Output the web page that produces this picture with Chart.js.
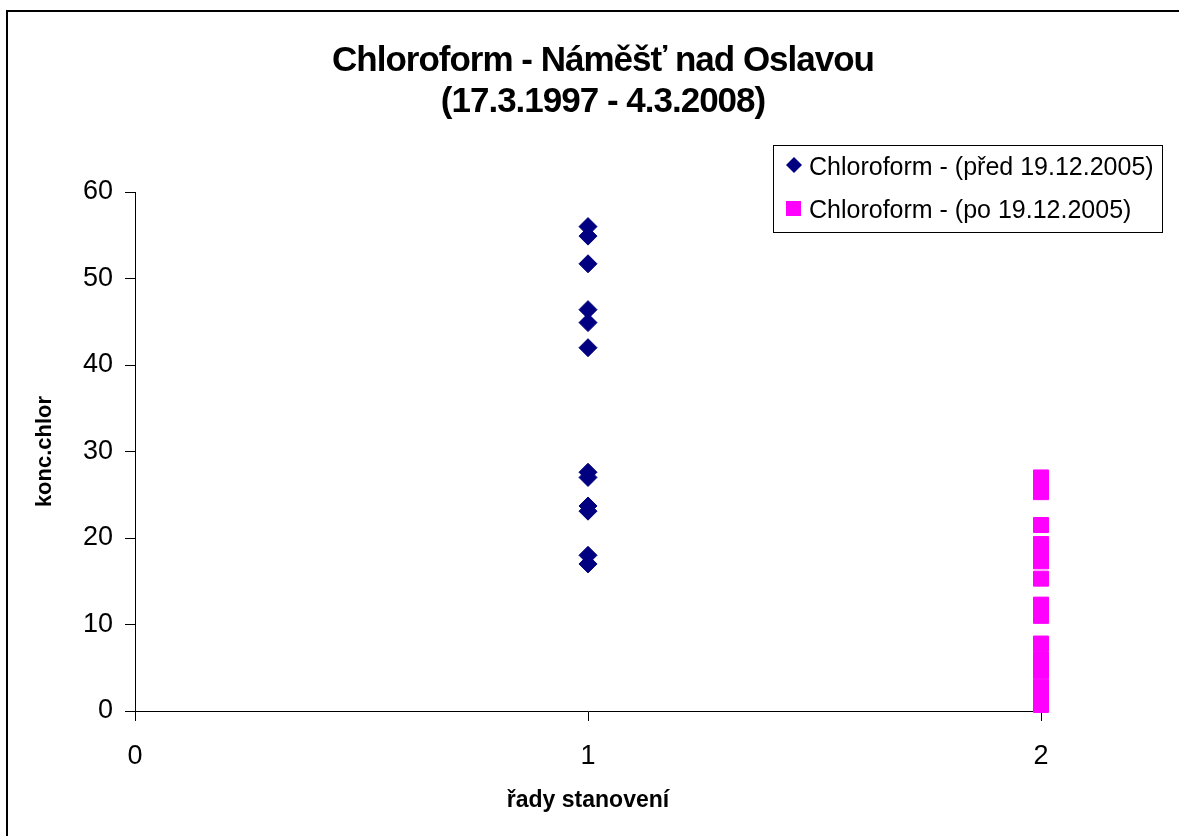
<!DOCTYPE html>
<html>
<head>
<meta charset="utf-8">
<script src="https://cdn.jsdelivr.net/npm/chart.js@4.4.1/dist/chart.umd.min.js"></script>
<style>
  html, body { margin: 0; background: #fff; }
  #chart { display: block; }
</style>
</head>
<body>
<canvas id="chart" width="1179" height="836"></canvas>
<script>
// chloroform concentration, series 1 = before 19.12.2005, series 2 = after
const titleLines = ["Chloroform - Náměšť nad Oslavou", "(17.3.1997 - 4.3.2008)"];
const seriesLabels = ["Chloroform - (před 19.12.2005)", "Chloroform - (po 19.12.2005)"];
const seriesX = [1, 2];
const beforeValues = [56.0, 54.9, 51.7, 46.4, 44.9, 42.0, 27.6, 27.0, 23.7, 23.1, 18.0, 17.0];
const afterValues = [27.0, 25.3, 21.5, 19.3, 18.0, 17.3, 15.3, 12.3, 11.0, 7.8, 6.0, 4.6, 2.8, 1.5, 0.7];
const xTicks = [0, 1, 2];
const yTicks = [0, 10, 20, 30, 40, 50, 60];
const xTitle = "řady stanovení";
const yTitle = "konc.chlor";

const FONT = '"Liberation Sans", Arial, sans-serif';
const NAVY = "#000080", MAGENTA = "#FF00FF";

Chart.defaults.font.family = FONT;
Chart.defaults.color = "#000";

// white page, outer frame, two-line title and the boxed legend
const decor = {
  id: "decor",
  beforeDraw(chart) {
    const ctx = chart.ctx;
    ctx.save();
    ctx.fillStyle = "#fff";
    ctx.fillRect(0, 0, chart.width, chart.height);
    ctx.strokeStyle = "#000";
    ctx.lineWidth = 2;
    ctx.strokeRect(7, 11, chart.width + 20, chart.height + 20);
    ctx.restore();
  },
  afterDraw(chart) {
    const ctx = chart.ctx;
    ctx.save();
    ctx.fillStyle = "#000";
    ctx.textAlign = "center";
    ctx.textBaseline = "alphabetic";
    ctx.font = "bold 35px " + FONT;
    ctx.letterSpacing = "-1px";
    titleLines.forEach((t, i) => ctx.fillText(t, 603, 71 + i * 41));
    ctx.letterSpacing = "0px";

    // legend box
    ctx.strokeStyle = "#000";
    ctx.lineWidth = 1;
    ctx.strokeRect(773.5, 145.5, 389, 87);
    ctx.font = "25px " + FONT;
    ctx.textAlign = "left";
    const rows = [175, 218];
    chart.data.datasets.forEach((ds, i) => {
      const cy = rows[i] - 10, cx = 794;
      ctx.fillStyle = ds.backgroundColor;
      ctx.beginPath();
      if (ds.pointStyle === "rectRot") {
        ctx.moveTo(cx, cy - 8); ctx.lineTo(cx + 8, cy); ctx.lineTo(cx, cy + 8); ctx.lineTo(cx - 8, cy);
        ctx.closePath();
      } else {
        ctx.rect(cx - 8, cy - 7, 15, 15);
      }
      ctx.fill();
      ctx.fillStyle = "#000";
      ctx.fillText(ds.label, 809, rows[i]);
    });
    ctx.restore();
  }
};

new Chart(document.getElementById("chart"), {
  type: "scatter",
  data: {
    datasets: [
      { label: seriesLabels[0], data: beforeValues.map(v => ({ x: seriesX[0], y: v })),
        pointStyle: "rectRot", pointRadius: 9, borderWidth: 1, clip: false,
        backgroundColor: NAVY, borderColor: NAVY },
      { label: seriesLabels[1], data: afterValues.map(v => ({ x: seriesX[1], y: v })),
        pointStyle: "rect", pointRadius: 10.6, borderWidth: 1, clip: false,
        backgroundColor: MAGENTA, borderColor: MAGENTA },
    ],
  },
  options: {
    responsive: false,
    animation: false,
    events: [],
    layout: { padding: { top: 192, right: 138, left: 0, bottom: 0 } },
    plugins: { legend: { display: false }, tooltip: { enabled: false } },
    scales: {
      x: {
        type: "linear", min: xTicks[0], max: xTicks[xTicks.length - 1],
        afterBuildTicks: s => { s.ticks = xTicks.map(v => ({ value: v })); },
        afterFit: s => { s.height = 125; },
        grid: { drawOnChartArea: false, drawTicks: true, tickLength: 10, color: "#000" },
        border: { display: true, color: "#000", width: 1 },
        ticks: { font: { size: 27 }, padding: 19, color: "#000" },
        title: { display: true, text: xTitle, font: { size: 23, weight: "bold" },
                 padding: { top: 0, bottom: 22 }, color: "#000" },
      },
      y: {
        type: "linear", min: yTicks[0], max: yTicks[yTicks.length - 1],
        afterBuildTicks: s => { s.ticks = yTicks.map(v => ({ value: v })); },
        afterFit: s => { s.width = 135; },
        grid: { drawOnChartArea: false, drawTicks: true, tickLength: 10, color: "#000" },
        border: { display: true, color: "#000", width: 1 },
        ticks: { font: { size: 27 }, padding: 12, color: "#000" },
        title: { display: true, text: yTitle, font: { size: 22, weight: "bold" },
                 padding: { top: 32, bottom: 0 }, color: "#000" },
      },
    },
  },
  plugins: [decor],
});
</script>
</body>
</html>
